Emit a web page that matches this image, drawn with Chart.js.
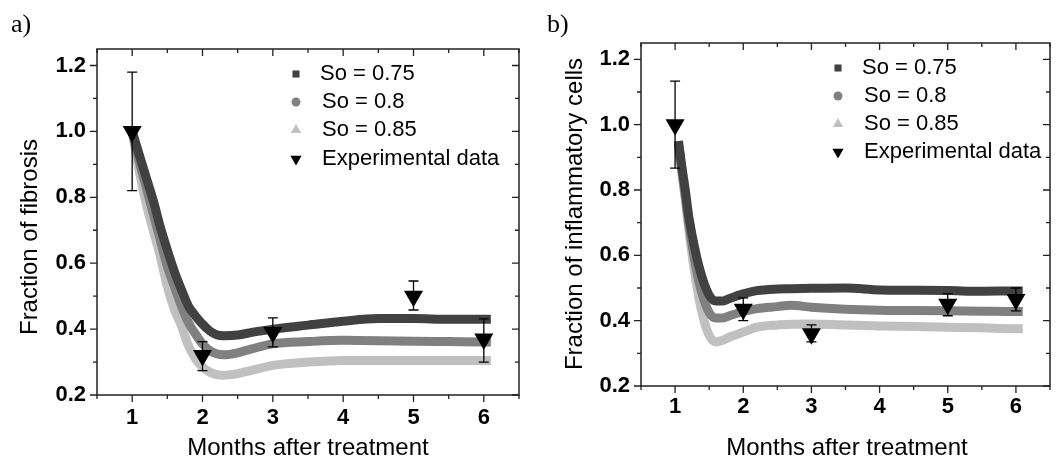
<!DOCTYPE html>
<html>
<head>
<meta charset="utf-8">
<script src="https://cdn.jsdelivr.net/npm/chart.js@4.4.1/dist/chart.umd.min.js"></script>
<style>
  html, body { margin: 0; padding: 0; background: #fff; }
  #wrap { position: relative; width: 1061px; height: 462px; }
  .panel { position: absolute; top: 0; height: 462px; }
  #panelA { left: 0; width: 530px; }
  #panelB { left: 530px; width: 531px; }
</style>
</head>
<body>
<div id="wrap">
  <div class="panel" id="panelA"><canvas id="chartA"></canvas></div>
  <div class="panel" id="panelB"><canvas id="chartB"></canvas></div>
</div>
<script>
// ---- data ----
const legendLabels = ["So = 0.75", "So = 0.8", "So = 0.85", "Experimental data"];
const xMajor = [1, 2, 3, 4, 5, 6];
const xMinor = [0.5, 1.5, 2.5, 3.5, 4.5, 5.5, 6.5];
const yMajor = [0.2, 0.4, 0.6, 0.8, 1.0, 1.2];
const yMinor = [0.3, 0.5, 0.7, 0.9, 1.1];

const expMonths = [1, 2, 3, 5, 6];

// a) fibrosis
const fibX = [1.0, 1.1, 1.2, 1.3, 1.4, 1.5, 1.6, 1.7, 1.8, 1.9, 2.0, 2.1, 2.2, 2.3, 2.5, 2.7, 3.0, 3.5, 4.0, 4.5, 5.0, 5.5, 6.0, 6.1];
const fibS075 = [1.0, 0.93, 0.86, 0.79, 0.71, 0.64, 0.575, 0.52, 0.47, 0.44, 0.415, 0.395, 0.383, 0.38, 0.382, 0.39, 0.40, 0.412, 0.424, 0.432, 0.432, 0.43, 0.43, 0.43];
const fibS080 = [1.0, 0.91, 0.83, 0.75, 0.67, 0.59, 0.53, 0.47, 0.42, 0.385, 0.355, 0.335, 0.325, 0.322, 0.328, 0.34, 0.355, 0.362, 0.366, 0.365, 0.363, 0.362, 0.361, 0.361];
const fibS085 = [1.0, 0.88, 0.78, 0.70, 0.62, 0.53, 0.46, 0.41, 0.35, 0.31, 0.285, 0.27, 0.262, 0.26, 0.265, 0.275, 0.29, 0.30, 0.305, 0.305, 0.305, 0.305, 0.305, 0.305];
const fibExp = [1.0, 0.32, 0.39, 0.50, 0.37];
const fibErrLow = [0.82, 0.274, 0.346, 0.458, 0.30];
const fibErrHigh = [1.18, 0.362, 0.434, 0.546, 0.431];

// b) inflammatory cells
const inflX = [1.05, 1.1, 1.15, 1.2, 1.3, 1.4, 1.5, 1.6, 1.7, 1.8, 2.0, 2.2, 2.5, 2.7, 3.0, 3.5, 4.0, 4.5, 5.0, 5.5, 6.0, 6.1];
const inflS075 = [0.95, 0.87, 0.80, 0.72, 0.61, 0.53, 0.478, 0.46, 0.46, 0.468, 0.482, 0.492, 0.497, 0.498, 0.499, 0.50, 0.494, 0.493, 0.492, 0.49, 0.491, 0.491];
const inflS080 = [0.94, 0.86, 0.78, 0.70, 0.57, 0.48, 0.425, 0.408, 0.408, 0.415, 0.428, 0.437, 0.443, 0.447, 0.441, 0.435, 0.432, 0.431, 0.43, 0.429, 0.428, 0.428];
const inflS085 = [0.93, 0.85, 0.77, 0.68, 0.53, 0.42, 0.355, 0.335, 0.34, 0.35, 0.365, 0.38, 0.387, 0.389, 0.39, 0.387, 0.384, 0.382, 0.38, 0.378, 0.375, 0.375];
const inflExp = [1.0, 0.435, 0.36, 0.45, 0.465];
const inflErrLow = [0.867, 0.40, 0.335, 0.415, 0.43];
const inflErrHigh = [1.133, 0.47, 0.387, 0.483, 0.50];

const colors = ["#414141", "#808080", "#c0c0c0", "#000000"];
const sansFont = "'Liberation Sans', Arial, sans-serif";

const pts = (xs, ys) => xs.map((x, i) => ({ x: x, y: ys[i] }));

// frame, mirrored ticks, error bars, legend and texts
const decor = {
  id: "decor",
  afterDatasetsDraw(chart, args, o) {
    const { ctx, scales: { x, y } } = chart;
    ctx.save();
    ctx.strokeStyle = "#000";
    ctx.lineWidth = 1.3;
    o.errX.forEach((m, i) => {
      const px = x.getPixelForValue(m);
      const top = y.getPixelForValue(o.errHigh[i]);
      const bot = y.getPixelForValue(o.errLow[i]);
      ctx.beginPath();
      ctx.moveTo(px, top); ctx.lineTo(px, bot);
      ctx.moveTo(px - 5, top); ctx.lineTo(px + 5, top);
      ctx.moveTo(px - 5, bot); ctx.lineTo(px + 5, bot);
      ctx.stroke();
    });
    ctx.restore();
  },
  afterDraw(chart, args, o) {
    const { ctx, chartArea: a, scales: { x, y } } = chart;
    ctx.save();
    ctx.strokeStyle = "#222";
    ctx.lineWidth = 1.5;
    ctx.strokeRect(a.left, a.top, a.right - a.left, a.bottom - a.top);
    ctx.lineWidth = 1.3;
    ctx.beginPath();
    const xt = (v, len) => {
      const p = x.getPixelForValue(v);
      ctx.moveTo(p, a.bottom); ctx.lineTo(p, a.bottom + len);
      ctx.moveTo(p, a.top); ctx.lineTo(p, a.top + len);
    };
    const yt = (v, len) => {
      const p = y.getPixelForValue(v);
      ctx.moveTo(a.left, p); ctx.lineTo(a.left - len, p);
      ctx.moveTo(a.right, p); ctx.lineTo(a.right - len, p);
    };
    xMajor.forEach(v => xt(v, 7));
    xMinor.forEach(v => xt(v, 4));
    yMajor.forEach(v => yt(v, 7));
    yMinor.forEach(v => yt(v, 4));
    ctx.stroke();

    // legend
    const helpers = Chart.helpers;
    const styles = [
      { pointStyle: "rect", radius: 5, rotation: 0 },
      { pointStyle: "circle", radius: 4.5, rotation: 0 },
      { pointStyle: "triangle", radius: 6, rotation: 0 },
      { pointStyle: "triangle", radius: 6.5, rotation: 180 }
    ];
    ctx.font = "22px " + sansFont;
    ctx.textBaseline = "middle";
    ctx.textAlign = "left";
    legendLabels.forEach((lab, i) => {
      ctx.fillStyle = colors[i];
      ctx.strokeStyle = colors[i];
      helpers.drawPoint(ctx, Object.assign({ borderWidth: 0 }, styles[i]), o.legendX, o.legendY[i]);
      ctx.fillStyle = "#000";
      ctx.fillText(lab, o.legendTextX + (i === 0 ? 0 : 2), o.legendY[i]);
    });

    // axis titles
    ctx.font = "24px " + sansFont;
    ctx.fillStyle = "#000";
    ctx.textAlign = "center";
    ctx.fillText("Months after treatment", o.xTitle[0], o.xTitle[1]);
    ctx.save();
    ctx.translate(o.yTitle[0], o.yTitle[1]);
    ctx.rotate(-Math.PI / 2);
    ctx.fillText(o.yTitleText, 0, 0);
    ctx.restore();

    // panel letter
    ctx.font = "26px 'Liberation Serif', 'Times New Roman', serif";
    ctx.textAlign = "left";
    ctx.textBaseline = "alphabetic";
    ctx.fillText(o.letter, o.letterPos[0], o.letterPos[1]);
    ctx.restore();
  }
};

function makeChart(id, xs, s1, s2, s3, exp, lo, hi, lay) {
  const band = (label, ys, i) => ({
    label: label,
    data: pts(xs, ys),
    borderColor: colors[i],
    borderWidth: 9,
    pointRadius: 0,
    cubicInterpolationMode: "monotone",
    fill: false
  });
  return new Chart(document.getElementById(id), {
    type: "line",
    data: {
      datasets: [
        {
          label: legendLabels[3],
          data: pts(expMonths, exp),
          showLine: false,
          pointStyle: "triangle",
          rotation: 180,
          pointRadius: 11,
          pointBackgroundColor: "#000",
          pointBorderColor: "#000",
          pointBorderWidth: 0
        },
        band(legendLabels[0], s1, 0),
        band(legendLabels[1], s2, 1),
        band(legendLabels[2], s3, 2)
      ]
    },
    options: {
      responsive: true,
      maintainAspectRatio: false,
      animation: false,
      layout: { padding: lay.padding },
      plugins: {
        legend: { display: false },
        tooltip: { enabled: false },
        decor: {
          errX: expMonths, errLow: lo, errHigh: hi,
          legendX: lay.legendX, legendTextX: lay.legendTextX, legendY: lay.legendY,
          xTitle: lay.xTitle, yTitle: lay.yTitle, yTitleText: lay.yTitleText,
          letter: lay.letter, letterPos: lay.letterPos
        }
      },
      scales: {
        x: {
          type: "linear",
          min: 0.5,
          max: 6.5,
          grid: { display: false, drawTicks: false, tickLength: 0 },
          border: { display: false },
          afterBuildTicks: s => { s.ticks = xMajor.map(v => ({ value: v })); },
          ticks: {
            padding: lay.xPad,
            color: "#000",
            font: { family: sansFont, size: 22, weight: "bold" },
            maxRotation: 0,
            autoSkip: false,
            callback: v => String(v)
          },
          afterFit: s => { s.height = lay.xHeight; }
        },
        y: {
          min: 0.2,
          max: 1.25,
          grid: { display: false, drawTicks: false, tickLength: 0 },
          border: { display: false },
          afterBuildTicks: s => { s.ticks = yMajor.map(v => ({ value: v })); },
          ticks: {
            padding: 11,
            color: "#000",
            autoSkip: false,
            font: { family: sansFont, size: 22, weight: "bold" },
            callback: v => v.toFixed(1)
          },
          afterFit: s => { s.width = lay.yWidth; }
        }
      }
    },
    plugins: [decor]
  });
}

makeChart("chartA", fibX, fibS075, fibS080, fibS085, fibExp, fibErrLow, fibErrHigh, {
  padding: { left: 0, top: 49, right: 11, bottom: 0 },
  yWidth: 97, xHeight: 67, xPad: 10,
  legendX: 296, legendTextX: 320, legendY: [74, 102, 130, 159],
  xTitle: [308, 448], yTitle: [30, 237], yTitleText: "Fraction of fibrosis",
  letter: "a)", letterPos: [11, 32]
});

makeChart("chartB", inflX, inflS075, inflS080, inflS085, inflExp, inflErrLow, inflErrHigh, {
  padding: { left: 0, top: 43, right: 9, bottom: 0 },
  yWidth: 111, xHeight: 76, xPad: 8,
  legendX: 308, legendTextX: 332, legendY: [68, 96, 124, 152],
  xTitle: [317, 448], yTitle: [45, 214], yTitleText: "Fraction of inflammatory cells",
  letter: "b)", letterPos: [17, 32]
});
</script>
</body>
</html>
